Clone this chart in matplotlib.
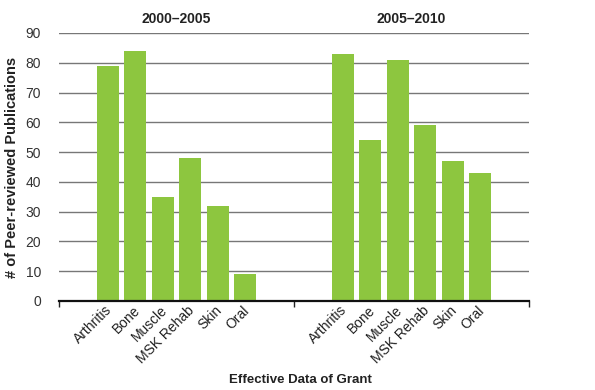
import matplotlib
matplotlib.use("Agg")
import matplotlib.pyplot as plt
import matplotlib.transforms as mtransforms
import numpy as np

plt.rcParams['font.family'] = ['Liberation Sans', 'DejaVu Sans']

categories = ["Arthritis", "Bone", "Muscle", "MSK Rehab", "Skin", "Oral"]
periods = ["2000\u20132005", "2005\u20132010"]
values_2000_2005 = [79, 84, 35, 48, 32, 9]
values_2005_2010 = [83, 54, 81, 59, 47, 43]
y_ticks = [0, 10, 20, 30, 40, 50, 60, 70, 80, 90]

green = "#8DC63F"
fig = plt.figure(figsize=(5.95, 3.9), dpi=100)
ax = fig.add_axes([59/595, 1-301/390, 470/595, 268/390])
blend = mtransforms.blended_transform_factory(ax.transData, ax.transAxes)

step = 0.1166
width = 0.094
n = len(categories)
offsets = (np.arange(n) - (n-1)/2) * step
series = [values_2000_2005, values_2005_2010]
for g, vals in enumerate(series):
    xs = g + 0.5 + offsets
    ax.bar(xs, vals, width=width, color=green, zorder=3)
    for x, c in zip(xs, categories):
        ax.text(x - 0.012, -0.008, c, transform=blend,
                rotation=45, ha='right', va='top', rotation_mode='anchor', fontsize=10, color='#222222')
    ax.text(g + 0.5, 1.025, periods[g], transform=blend,
            ha='center', va='bottom', fontsize=10, fontweight='bold', color='#222222')

ax.set_xlim(0, 2)
ax.set_ylim(0, 90)
ax.set_yticks(y_ticks)
ax.set_xticks([0, 1, 2])
ax.set_xticklabels([])
ax.tick_params(axis='x', direction='out', length=4, width=1, color='#222222')
ax.tick_params(axis='y', length=0, labelsize=10, labelcolor='#333333', pad=13)
ax.grid(axis='y', color='#777777', linewidth=1, zorder=0)
ax.set_axisbelow(True)
for s in ['left', 'right', 'top']:
    ax.spines[s].set_visible(False)
ax.spines['bottom'].set_linewidth(1.6)
ax.spines['bottom'].set_color('#111111')
ax.spines['bottom'].set_zorder(4)

fig.text(12/595, 1-167/390, "# of Peer-reviewed Publications", rotation=90, ha='center', va='center',
         fontsize=10.5, fontweight='bold', color='#222222')
fig.text(300/595, 1-380/390, "Effective Data of Grant", ha='center', va='center',
         fontsize=9.5, fontweight='bold', color='#222222')

fig.savefig("out.png", dpi=100)
